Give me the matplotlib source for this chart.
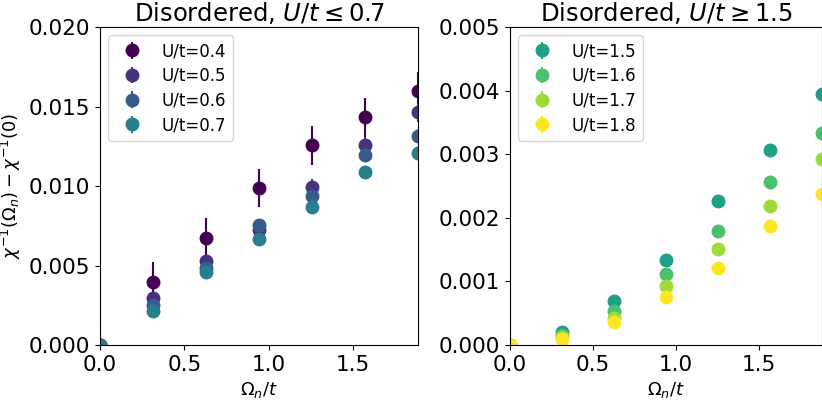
import numpy as np
import matplotlib.pyplot as plt

# Matsubara frequencies Omega_n = 2 pi n T, T/t = 0.05
omega = np.array([0.0, 0.314, 0.628, 0.942, 1.257, 1.571, 1.885])

# weak coupling, U/t <= 0.7
U_low = [0.4, 0.5, 0.6, 0.7]
chi_04 = [0.0, 0.00399, 0.00676, 0.00988, 0.01255, 0.01431, 0.01599]
chi_05 = [0.0, 0.00298, 0.00529, 0.00724, 0.00995, 0.01259, 0.01463]
chi_06 = [0.0, 0.00252, 0.00487, 0.00756, 0.00936, 0.01196, 0.01312]
chi_07 = [0.0, 0.00216, 0.00462, 0.00669, 0.00869, 0.01091, 0.01209]
err_04 = [0.0012, 0.0012, 0.0012, 0.0012, 0.0012, 0.0012, 0.0012]
err_05 = [0.0003, 0.0003, 0.0004, 0.0004, 0.0005, 0.0005, 0.0006]
err_06 = [0.0001, 0.0001, 0.0001, 0.0001, 0.0001, 0.0001, 0.0001]
err_07 = [0.0001, 0.0001, 0.0001, 0.0001, 0.0001, 0.0001, 0.0001]

# strong coupling, U/t >= 1.5
U_high = [1.5, 1.6, 1.7, 1.8]
chi_15 = [0.0, 0.00020, 0.00069, 0.00134, 0.00227, 0.00307, 0.00395]
chi_16 = [0.0, 0.00016, 0.00054, 0.00112, 0.00180, 0.00256, 0.00333]
chi_17 = [0.0, 0.00012, 0.00042, 0.00093, 0.00151, 0.00219, 0.00292]
chi_18 = [0.0, 0.00009, 0.00036, 0.00076, 0.00121, 0.00187, 0.00238]
err_high = [0.00002, 0.00002, 0.00002, 0.00002, 0.00002, 0.00002, 0.00002]

low_data = [(chi_04, err_04), (chi_05, err_05), (chi_06, err_06), (chi_07, err_07)]
high_data = [(chi_15, err_high), (chi_16, err_high), (chi_17, err_high), (chi_18, err_high)]

colors = plt.cm.viridis(np.linspace(0, 1, 8))

fig = plt.figure(figsize=(8.22, 4.03), dpi=100)
ax1 = fig.add_axes([0.1217, 0.1439, 0.3868, 0.7891])
ax2 = fig.add_axes([0.6204, 0.1439, 0.3800, 0.7891])

for i, (U, (y, e)) in enumerate(zip(U_low, low_data)):
    ax1.errorbar(omega, y, yerr=e, fmt='o', ms=9, color=colors[i],
                 label='U/t=%.1f' % U)
for i, (U, (y, e)) in enumerate(zip(U_high, high_data)):
    ax2.errorbar(omega, y, yerr=e, fmt='o', ms=9, color=colors[i + 4],
                 label='U/t=%.1f' % U)

ax1.set_ylim(0, 0.020)
ax1.set_yticks([0.0, 0.005, 0.010, 0.015, 0.020])
ax2.set_ylim(0, 0.005)
ax2.set_yticks([0.0, 0.001, 0.002, 0.003, 0.004, 0.005])
for ax in (ax1, ax2):
    ax.set_xlim(0, 1.885)
    ax.set_xticks([0.0, 0.5, 1.0, 1.5])
    ax.tick_params(labelsize=15.5)
    ax.set_xlabel(r'$\Omega_n/t$', fontsize=13)
    ax.legend(loc='upper left', fontsize=12, labelspacing=0.4)

ax1.set_ylabel(r'$\chi^{-1}(\Omega_n)-\chi^{-1}(0)$', fontsize=13)
ax1.set_title(r'Disordered, $U/t \leq 0.7$', fontsize=17.5, pad=4)
ax2.set_title(r'Disordered, $U/t \geq 1.5$', fontsize=17.5, pad=4)

fig.savefig('out.png', dpi=100)
